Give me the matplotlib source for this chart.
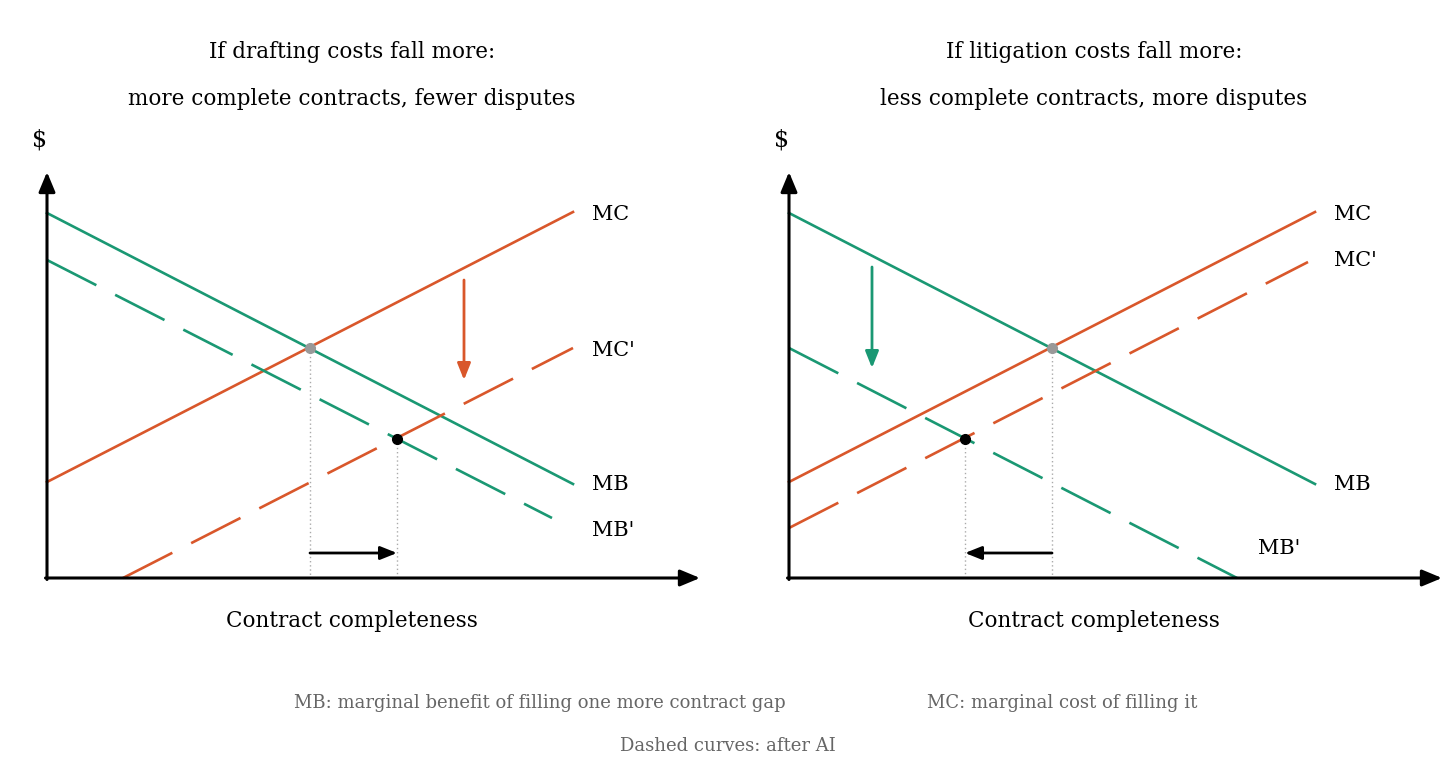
import matplotlib
matplotlib.use("Agg")
import matplotlib.pyplot as plt

RED = "#D9572B"; GREEN = "#1A9873"
FONT = "DejaVu Serif"

titles = [["If drafting costs fall more:", "more complete contracts, fewer disputes"],
          ["If litigation costs fall more:", "less complete contracts, more disputes"]]
origins = [(47, 578), (789, 578)]
# lines in panel coords (x px right, y px up from origin)
MC = [[(0, 96), (526, 366)], [(0, 96), (526, 366)]]
MCp = [[(76, 0), (526, 230)], [(0, 50), (519, 316)]]
MB = [[(0, 365), (526, 94)], [(0, 365), (526, 94)]]
MBp = [[(0, 318), (505, 60)], [(0, 230), (448, 0)]]
old_eq = [(263, 230), (263, 230)]
new_eq = [(350, 139), (176, 139)]
shift_arrow = [(417, 298, 198, RED), (83, 311, 210, GREEN)]
label_pos = [{"MC": (545, 364), "MC'": (545, 228), "MB": (545, 93), "MB'": (545, 48)},
             {"MC": (545, 364), "MC'": (545, 317), "MB": (545, 93), "MB'": (469, 30)}]

fig = plt.figure(figsize=(14.56, 7.81), dpi=100)
ax = fig.add_axes([0, 0, 1, 1])
ax.set_xlim(0, 1456); ax.set_ylim(781, 0); ax.axis("off")

for i in range(2):
    ox, oy = origins[i]
    P = lambda p: (ox + p[0], oy - p[1])
    cx = ox + 305
    ax.text(cx, 52, titles[i][0], ha="center", va="center", fontsize=15.5, family=FONT)
    ax.text(cx, 99, titles[i][1], ha="center", va="center", fontsize=15.5, family=FONT)
    ax.text(ox - 7, 140, "$", ha="center", va="center", fontsize=17, family=FONT)
    ax.text(cx, 621, "Contract completeness", ha="center", va="center", fontsize=15.5, family=FONT)
    ax.annotate("", xy=(ox, 172), xytext=(ox, oy + 1.5),
                arrowprops=dict(arrowstyle="-|>,head_length=1.2,head_width=0.5", lw=2.2, color="k", shrinkA=0, shrinkB=0))
    ax.annotate("", xy=(ox + 653, oy), xytext=(ox - 1.5, oy),
                arrowprops=dict(arrowstyle="-|>,head_length=1.2,head_width=0.5", lw=2.2, color="k", shrinkA=0, shrinkB=0))
    for seg, c, ls in [(MC[i], RED, "-"), (MB[i], GREEN, "-"), (MCp[i], RED, "--"), (MBp[i], GREEN, "--")]:
        a, b = P(seg[0]), P(seg[1])
        l, = ax.plot([a[0], b[0]], [a[1], b[1]], color=c, lw=1.9)
        if ls == "--":
            l.set_dashes([21, 8])
    for name, p in label_pos[i].items():
        x, y = P(p)
        ax.text(x, y, name, ha="left", va="center", fontsize=15, family=FONT)
    for p, c in [(old_eq[i], "#999999"), (new_eq[i], "black")]:
        x, y = P(p)
        ax.plot([x, x], [y, oy], color="#aaaaaa", lw=1, ls=(0, (1, 2)))
        ax.plot(x, y, "o", color=c, ms=7, zorder=5)
    x0 = P(old_eq[i])[0]; x1 = P(new_eq[i])[0]
    ax.annotate("", xy=(x1, 553), xytext=(x0, 553),
                arrowprops=dict(arrowstyle="-|>,head_length=1.0,head_width=0.4", lw=2, color="k", shrinkA=0, shrinkB=0))
    sx, sy0, sy1, sc = shift_arrow[i]
    ax.annotate("", xy=P((sx, sy1)), xytext=P((sx, sy0)),
                arrowprops=dict(arrowstyle="-|>,head_length=1.0,head_width=0.4", lw=2, color=sc, shrinkA=0, shrinkB=0))

ax.text(540, 703, "MB: marginal benefit of filling one more contract gap", ha="center", va="center",
        fontsize=13, family=FONT, color="#666666")
ax.text(1062, 703, "MC: marginal cost of filling it", ha="center", va="center",
        fontsize=13, family=FONT, color="#666666")
ax.text(728, 746, "Dashed curves: after AI", ha="center", va="center",
        fontsize=13, family=FONT, color="#666666")
fig.savefig("out.png", dpi=100)
